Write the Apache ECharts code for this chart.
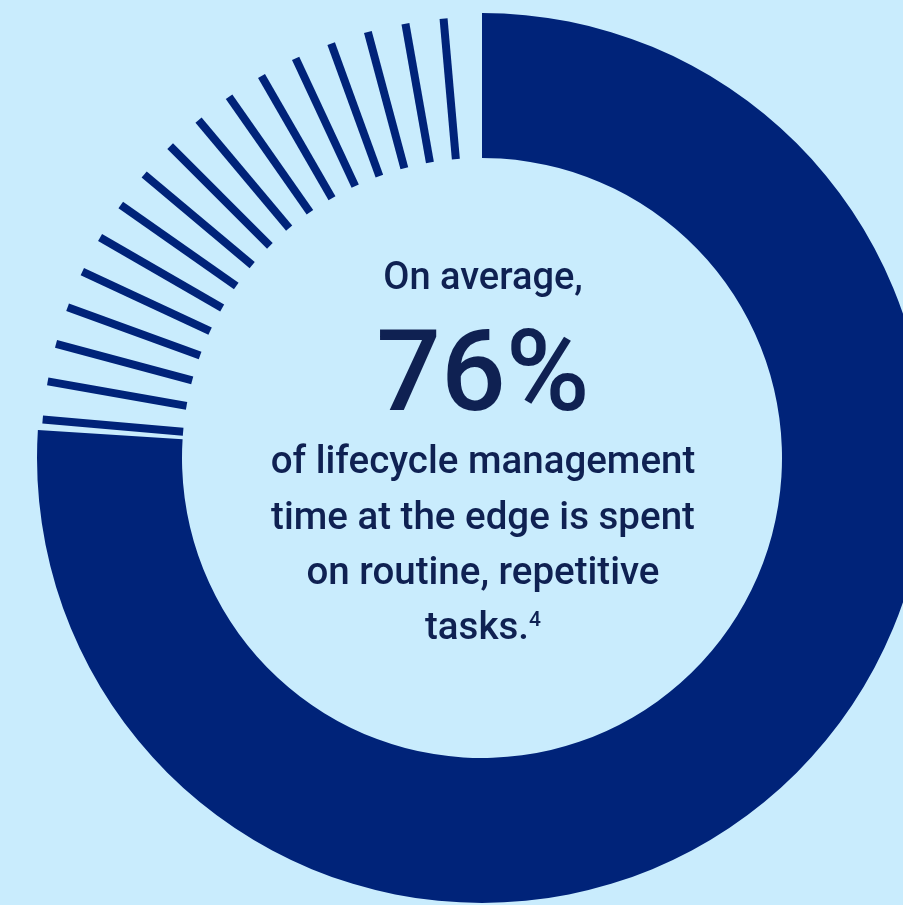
<!DOCTYPE html>
<html>
<head>
<meta charset="utf-8">
<script src="https://cdn.jsdelivr.net/npm/echarts@6/dist/echarts.min.js"></script>
<style>
html,body{margin:0;padding:0;background:#c9ecfd;}
#chart{width:903px;height:905px;}
</style>
</head>
<body>
<div id="chart"></div>
<script>
// ---- data ----
const shareLabels = ['Routine, repetitive tasks', 'Other'];
const shareValues = [76, 24];
// angles (degrees clockwise from 12 o'clock) of the decorative stripes filling the remaining share
const stripeAngles = [275, 280, 285, 290, 295, 300, 305, 310, 315, 320, 325, 330, 335, 340, 345, 350, 355];
const headline = 'On average,';
const bigNumber = '76%';
const bodyLines = ['of lifecycle management', 'time at the edge is spent', 'on routine, repetitive'];
const lastLine = 'tasks.';
const footnote = '4';

// ---- style ----
const NAVY = '#002379';
const TEXT = '#0f2152';
const CX = 482, CY = 458;
const R_IN = 300, R_OUT = 445;
const STRIPE_IN = 300, STRIPE_OUT = 441;
const FONT = 'Roboto, "Noto Sans", sans-serif';

const chart = echarts.init(document.getElementById('chart'), null, {renderer: 'canvas'});

const textEls = [];
textEls.push({type:'text', x: 483, y: 279, silent:true,
  style:{text: headline, fill: TEXT, font: '500 38px ' + FONT, align:'center', verticalAlign:'middle'}});
textEls.push({type:'text', x: 483, y: 381, silent:true,
  style:{text: bigNumber, fill: TEXT, font: '500 114px ' + FONT, align:'center', verticalAlign:'middle'}});
const bodyY = [463, 519, 574];
bodyLines.forEach((t, i) => {
  textEls.push({type:'text', x: 483, y: bodyY[i], silent:true,
    style:{text: t, fill: TEXT, font: '500 38.5px ' + FONT, align:'center', verticalAlign:'middle'}});
});
textEls.push({type:'text', x: 483, y: 629, silent:true,
  style:{text: '{m|' + lastLine + '}{s|' + footnote + '}', align:'center', verticalAlign:'middle',
    rich:{
      m:{fill: TEXT, fontFamily: FONT, fontWeight: 500, fontSize: 38.5, lineHeight: 44},
      s:{fill: TEXT, fontFamily: FONT, fontWeight: 500, fontSize: 21, lineHeight: 44, verticalAlign:'top', padding:[3,0,0,0]}
    }}});

chart.setOption({
  backgroundColor: '#c9ecfd',
  animation: false,
  polar: {center: [CX, CY], radius: R_OUT},
  angleAxis: {type:'value', min:0, max:360, startAngle:90, clockwise:true, show:false},
  radiusAxis: {type:'value', min:0, max:R_OUT, show:false},
  series: [
    {
      type: 'pie',
      center: [CX, CY],
      radius: [R_IN, R_OUT],
      startAngle: 90,
      clockwise: true,
      silent: true,
      label: {show:false},
      labelLine: {show:false},
      emphasis: {disabled:true},
      data: shareValues.map((v, i) => ({
        name: shareLabels[i], value: v,
        itemStyle: {color: i === 0 ? NAVY : 'rgba(0,0,0,0)', borderWidth: 0}
      }))
    },
    {
      type: 'custom',
      coordinateSystem: 'polar',
      silent: true,
      data: stripeAngles.map(a => [STRIPE_OUT, a]),
      renderItem: function (params, api) {
        const a = api.value(1);
        const p1 = api.coord([STRIPE_IN, a]);
        const p2 = api.coord([STRIPE_OUT, a]);
        return {type:'line', shape:{x1:p1[0], y1:p1[1], x2:p2[0], y2:p2[1]},
          style:{stroke: NAVY, lineWidth: 8, lineCap:'butt'}};
      }
    }
  ],
  graphic: textEls
});
</script>
</body>
</html>
